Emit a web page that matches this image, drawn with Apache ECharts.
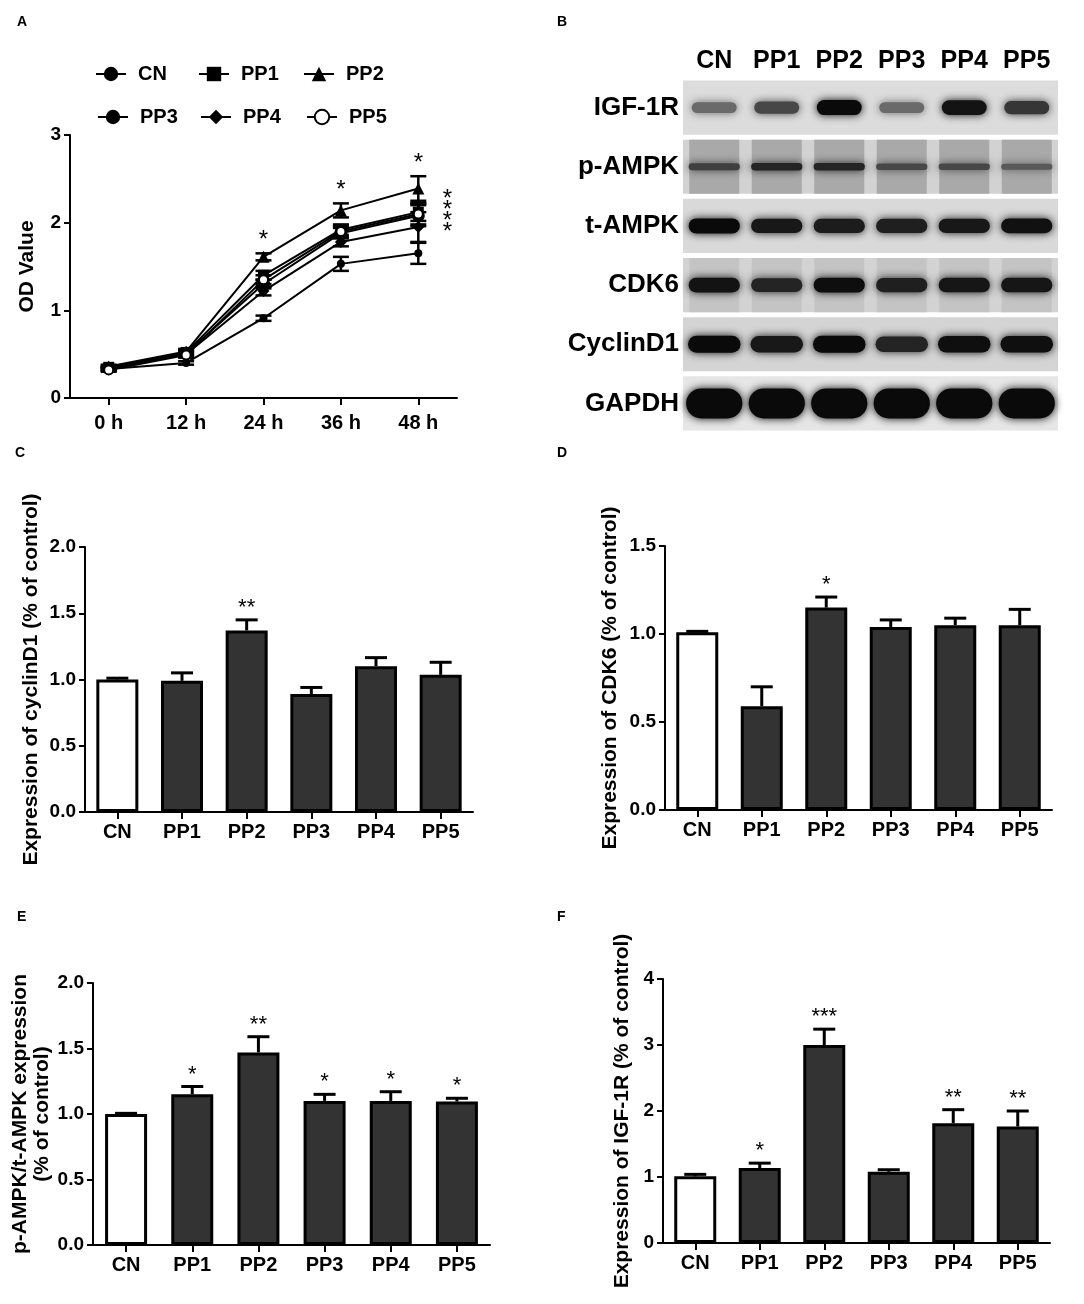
<!DOCTYPE html>
<html>
<head>
<meta charset="utf-8">
<script src="https://cdn.jsdelivr.net/npm/echarts@6/dist/echarts.min.js"></script>
<style>
  html, body { margin: 0; padding: 0; background: #fff; }
  #main { width: 1084px; height: 1304px; }
</style>
</head>
<body>
<div id="main"></div>
<script>
// Panel A: proliferation (OD value)
const timeLabels = ["0 h", "12 h", "24 h", "36 h", "48 h"];
const odCN = [0.33, 0.40, 0.91, 1.53, 1.65];
const odPP1 = [0.35, 0.52, 1.40, 1.92, 2.12];
const odPP2 = [0.36, 0.53, 1.61, 2.14, 2.39];
const odPP3 = [0.34, 0.51, 1.30, 1.88, 2.08];
const odPP4 = [0.33, 0.50, 1.22, 1.78, 1.95];
const odPP5 = [0.32, 0.49, 1.35, 1.90, 2.10];
const semCN = [0.02, 0.02, 0.03, 0.08, 0.12];
const semPP1 = [0.02, 0.03, 0.05, 0.06, 0.10];
const semPP2 = [0.02, 0.03, 0.04, 0.08, 0.14];
const semPP3 = [0.02, 0.03, 0.05, 0.06, 0.12];
const semPP4 = [0.02, 0.03, 0.05, 0.05, 0.17];
const semPP5 = [0.02, 0.03, 0.05, 0.06, 0.12];

// Panel B: western blot
const groups = ["CN", "PP1", "PP2", "PP3", "PP4", "PP5"];
const proteins = ["IGF-1R", "p-AMPK", "t-AMPK", "CDK6", "CyclinD1", "GAPDH"];
const bandIGF = [0.45, 0.65, 1.0, 0.45, 0.95, 0.75];
const bandPAMPK = [0.7, 0.85, 0.85, 0.65, 0.65, 0.55];
const bandTAMPK = [1.0, 0.92, 0.9, 0.88, 0.92, 0.96];
const bandCDK6 = [0.95, 0.85, 0.98, 0.88, 0.93, 0.93];
const bandCyc = [1.0, 0.92, 1.0, 0.85, 0.97, 0.97];
const bandGAPDH = [1, 1, 1, 1, 1, 1];

// Panels C-F: relative expression (mean, sem, significance)
const cyclinMean = [1.00, 0.99, 1.37, 0.89, 1.10, 1.035];
const cyclinSem = [0.01, 0.06, 0.08, 0.05, 0.065, 0.095];
const cyclinSig = ["", "", "**", "", "", ""];
const cdkMean = [1.01, 0.59, 1.15, 1.04, 1.05, 1.05];
const cdkSem = [0.005, 0.11, 0.06, 0.04, 0.04, 0.09];
const cdkSig = ["", "", "*", "", "", ""];
const ampkMean = [1.00, 1.15, 1.47, 1.10, 1.10, 1.095];
const ampkSem = [0.005, 0.06, 0.12, 0.05, 0.07, 0.025];
const ampkSig = ["", "*", "**", "*", "*", "*"];
const igfMean = [1.01, 1.135, 3.00, 1.08, 1.815, 1.765];
const igfSem = [0.03, 0.075, 0.24, 0.03, 0.205, 0.235];
const igfSig = ["", "*", "***", "", "**", "**"];

const FONT = "Liberation Sans, Arial, sans-serif";

const axisLine = { show: true, lineStyle: { color: "#000", width: 2 } };
const axisTick = { show: true, length: 6, lineStyle: { color: "#000", width: 2 } };

function valueAxis(gi, max, interval, name, gap, decimals) {
  return {
    type: "value", gridIndex: gi, min: 0, max: max, interval: interval,
    name: name, nameLocation: "middle", nameGap: gap, nameRotate: 90,
    nameTextStyle: { fontFamily: FONT, fontSize: 21, fontWeight: "bold", color: "#000", lineHeight: 22 },
    axisLine: axisLine, axisTick: axisTick, splitLine: { show: false },
    axisLabel: {
      fontFamily: FONT, fontSize: 19, fontWeight: "bold", color: "#000", margin: 9,
      formatter: (v) => v.toFixed(decimals)
    }
  };
}

function catAxis(gi, data, margin) {
  return {
    type: "category", gridIndex: gi, data: data,
    axisLine: axisLine,
    axisTick: { show: true, alignWithLabel: true, length: 7, lineStyle: { color: "#000", width: 2 } },
    axisLabel: { fontFamily: FONT, fontSize: 20, fontWeight: "bold", color: "#000", margin: margin, interval: 0 }
  };
}

function starText(s, x, y, size) {
  return { type: "text", style: { text: s, x: x, y: y, align: "center", verticalAlign: "bottom",
    fontFamily: FONT, fontSize: size || 22, fill: "#000" } };
}

// upper error bar with cap and significance text
function errorRender(sig, cap) {
  return function (params, api) {
    const x = api.value(0), m = api.value(1), e = api.value(2);
    const base = api.coord([x, m]);
    const top = api.coord([x, m + e]);
    const kids = [
      { type: "line", shape: { x1: top[0], y1: base[1], x2: top[0], y2: top[1] }, style: { stroke: "#000", lineWidth: 3 } },
      { type: "line", shape: { x1: top[0] - cap, y1: top[1], x2: top[0] + cap, y2: top[1] }, style: { stroke: "#000", lineWidth: 3 } }
    ];
    const s = sig ? sig[params.dataIndex] : "";
    if (s) kids.push(starText(s, top[0], top[1] - 1));
    return { type: "group", children: kids };
  };
}

function barPanel(gi, mean, sem, sig) {
  return [
    {
      type: "bar", xAxisIndex: gi, yAxisIndex: gi, barWidth: 42,
      data: mean.map((v, i) => ({ value: v, itemStyle: { color: i === 0 ? "#fff" : "#333" } })),
      itemStyle: { borderColor: "#000", borderWidth: 3 }, silent: true
    },
    {
      type: "custom", xAxisIndex: gi, yAxisIndex: gi, clip: false, z: 3,
      data: mean.map((v, i) => [i, v, sem[i]]), encode: { x: 0, y: 1 },
      renderItem: errorRender(sig, 11)
    }
  ];
}

// ---- Panel A series
const lineDefs = [
  { name: "CN", data: odCN, sem: semCN, symbol: "circle", size: 8 },
  { name: "PP1", data: odPP1, sem: semPP1, symbol: "rect", size: 11 },
  { name: "PP2", data: odPP2, sem: semPP2, symbol: "triangle", size: 12 },
  { name: "PP3", data: odPP3, sem: semPP3, symbol: "circle", size: 13 },
  { name: "PP4", data: odPP4, sem: semPP4, symbol: "diamond", size: 12 },
  { name: "PP5", data: odPP5, sem: semPP5, symbol: "emptyCircle", size: 9 }
];

const lineSeries = lineDefs.map((d) => ({
  type: "line", name: d.name, xAxisIndex: 0, yAxisIndex: 0, data: d.data,
  symbol: d.symbol, symbolSize: d.size, showSymbol: true,
  lineStyle: { color: "#000", width: 2 },
  itemStyle: { color: "#000", borderColor: "#000", borderWidth: d.symbol === "emptyCircle" ? 2 : 0 },
  silent: true
}));

const odErr = [];
lineDefs.forEach((d) => {
  d.data.forEach((v, i) => odErr.push([i, v, d.sem[i]]));
});

function odErrRender(params, api) {
  const x = api.value(0), m = api.value(1), e = api.value(2);
  const lo = api.coord([x, m - e]);
  const hi = api.coord([x, m + e]);
  const st = { stroke: "#000", lineWidth: 2.5 };
  return { type: "group", children: [
    { type: "line", shape: { x1: lo[0], y1: lo[1], x2: hi[0], y2: hi[1] }, style: st },
    { type: "line", shape: { x1: hi[0] - 8, y1: hi[1], x2: hi[0] + 8, y2: hi[1] }, style: st },
    { type: "line", shape: { x1: lo[0] - 8, y1: lo[1], x2: lo[0] + 8, y2: lo[1] }, style: st }
  ] };
}

// stars above PP2 at 24/36/48 h
const starA = [2, 3, 4].map((i) => [i, odPP2[i] + semPP2[i], 0]);
// stacked stars right of the 48 h cluster
const starStack = [[4, odPP5[4], 1]];

function starARender(params, api) {
  const c = api.coord([api.value(0), api.value(1)]);
  if (api.value(2) === 1) {
    const kids = [];
    for (let k = 0; k < 4; k++) kids.push(starText("*", c[0] + 29, c[1] + 14 + (k - 1.5) * 11, 24));
    return { type: "group", children: kids };
  }
  return starText("*", c[0], c[1] - 1, 24);
}

// legend items laid out like the original two rows
const legendPos = [[95, 64], [198, 64], [303, 64], [97, 107], [200, 107], [306, 107]];
const legendText = { fontFamily: FONT, fontSize: 20, fontWeight: "bold", color: "#000", padding: [0, 0, 0, 7] };
const legends = lineDefs.map((d, i) => ({
  data: [d.name], left: legendPos[i][0], top: legendPos[i][1], itemWidth: 30, itemHeight: 18,
  textStyle: legendText, selectedMode: false, padding: 0
}));

// ---- Panel B render
const bandRows = [bandIGF, bandPAMPK, bandTAMPK, bandCDK6, bandCyc, bandGAPDH];
const bandData = [];
bandRows.forEach((row, r) => row.forEach((v, l) => bandData.push([l, r, v])));
const stripColor = ["#dcdcdc", "#d2d2d2", "#d9d9d9", "#d3d3d3", "#d4d4d4", "#e6e6e6"];
const bandThick = [15, 8, 15, 15, 17, 30];
const bandWidthF = [0.72, 0.82, 0.82, 0.82, 0.84, 0.9];

function stripRender(params, api) {
  const r = api.value(1);
  const c = api.coord([0, r]);
  const h = api.size([1, 1])[1];
  const cs = params.coordSys;
  const kids = [{ type: "rect", shape: { x: cs.x, y: c[1] - h / 2 + 2.5, width: cs.width, height: h - 5 },
    style: { fill: stripColor[r] } }];
  if (r === 1 || r === 3) {
    // darker lanes
    const lw = api.size([1, 1])[0];
    for (let l = 0; l < groups.length; l++) {
      const lc = api.coord([l, r]);
      kids.push({ type: "rect", shape: { x: lc[0] - lw * 0.4, y: c[1] - h / 2 + 2.5, width: lw * 0.8, height: h - 5 },
        style: { fill: r === 1 ? "#a9a9a9" : "#c4c4c4" } });
    }
  }
  return { type: "group", children: kids };
}

function bandRender(params, api) {
  const l = api.value(0), r = api.value(1), v = api.value(2);
  const c = api.coord([l, r]);
  const w = api.size([1, 1])[0] * bandWidthF[r];
  const h = bandThick[r] * (0.5 + 0.5 * v);
  const g = Math.round(185 - 175 * v);
  const col = "rgb(" + g + "," + g + "," + g + ")";
  return { type: "rect", shape: { x: c[0] - w / 2, y: c[1] - h / 2, width: w, height: h, r: h / 2 },
    style: { fill: col, shadowBlur: 8, shadowColor: col } };
}

const letterStyle = { fontFamily: FONT, fontSize: 14, fontWeight: "bold", color: "#000" };

const option = {
  animation: false,
  backgroundColor: "#fff",
  textStyle: { fontFamily: FONT },
  title: [
    { text: "A", left: 17, top: 15, padding: 0, textStyle: letterStyle },
    { text: "B", left: 557, top: 15, padding: 0, textStyle: letterStyle },
    { text: "C", left: 15, top: 446, padding: 0, textStyle: letterStyle },
    { text: "D", left: 557, top: 446, padding: 0, textStyle: letterStyle },
    { text: "E", left: 17, top: 910, padding: 0, textStyle: letterStyle },
    { text: "F", left: 557, top: 910, padding: 0, textStyle: letterStyle }
  ],
  legend: legends,
  grid: [
    { left: 70, top: 135, width: 387, height: 263 },
    { left: 683, top: 78, width: 375, height: 355 },
    { left: 85, top: 547, width: 388, height: 265 },
    { left: 665, top: 546, width: 387, height: 264 },
    { left: 93, top: 983, width: 397, height: 262 },
    { left: 663, top: 979, width: 387, height: 264 }
  ],
  xAxis: [
    catAxis(0, timeLabels, 15),
    {
      type: "category", gridIndex: 1, data: groups, position: "top",
      axisLine: { show: false }, axisTick: { show: false },
      axisLabel: { fontFamily: FONT, fontSize: 25, fontWeight: "bold", color: "#000", margin: 4, interval: 0 }
    },
    catAxis(2, groups, 10),
    catAxis(3, groups, 10),
    catAxis(4, groups, 10),
    catAxis(5, groups, 10)
  ],
  yAxis: [
    valueAxis(0, 3, 1, "OD Value", 32, 0),
    {
      type: "category", gridIndex: 1, data: proteins, inverse: true,
      axisLine: { show: false }, axisTick: { show: false }, splitLine: { show: false },
      axisLabel: { fontFamily: FONT, fontSize: 26, fontWeight: "bold", color: "#000", margin: 4, interval: 0 }
    },
    valueAxis(2, 2, 0.5, "Expression of cyclinD1 (% of control)", 43, 1),
    valueAxis(3, 1.5, 0.5, "Expression of CDK6 (% of control)", 44, 1),
    valueAxis(4, 2, 0.5, "p-AMPK/t-AMPK expression\n(% of control)", 35, 1),
    valueAxis(5, 4, 1, "Expression of IGF-1R (% of control)", 30, 0)
  ],
  series: [
    ...lineSeries,
    {
      type: "custom", xAxisIndex: 0, yAxisIndex: 0, data: odErr, encode: { x: 0, y: 1 },
      renderItem: odErrRender, clip: false, z: 3, silent: true
    },
    {
      type: "custom", xAxisIndex: 0, yAxisIndex: 0, data: starA.concat(starStack), encode: { x: 0, y: 1 },
      renderItem: starARender, clip: false, z: 4, silent: true
    },
    {
      type: "custom", xAxisIndex: 1, yAxisIndex: 1, silent: true, z: 1,
      data: proteins.map((p, i) => [0, i]), encode: { x: 0, y: 1 }, renderItem: stripRender
    },
    {
      type: "custom", xAxisIndex: 1, yAxisIndex: 1, silent: true, z: 2,
      data: bandData, encode: { x: 0, y: 1 }, renderItem: bandRender
    },
    ...barPanel(2, cyclinMean, cyclinSem, cyclinSig),
    ...barPanel(3, cdkMean, cdkSem, cdkSig),
    ...barPanel(4, ampkMean, ampkSem, ampkSig),
    ...barPanel(5, igfMean, igfSem, igfSig)
  ]
};

const chart = echarts.init(document.getElementById("main"), null, { renderer: "canvas" });
chart.setOption(option);
</script>
</body>
</html>
